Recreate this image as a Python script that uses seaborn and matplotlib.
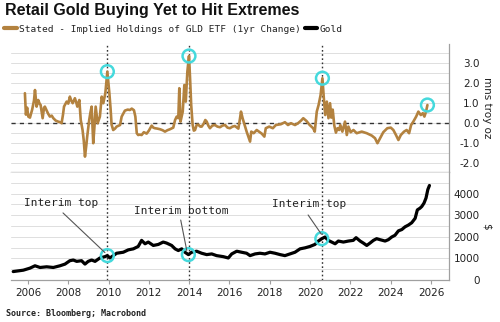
import numpy as np
import pandas as pd
import matplotlib
matplotlib.use("Agg")
import matplotlib.pyplot as plt
from matplotlib.lines import Line2D
from matplotlib.font_manager import FontProperties
import seaborn as sns

# Stated minus implied GLD holdings, 1yr change (mns troy oz)
holding_years = [
    2005.85, 2005.90, 2005.96, 2006.02, 2006.10, 2006.21, 2006.30, 2006.35, 2006.43, 2006.51,
    2006.58, 2006.63, 2006.73, 2006.80, 2006.84, 2006.93, 2007.00, 2007.09, 2007.18, 2007.26,
    2007.38, 2007.50, 2007.60, 2007.67, 2007.74, 2007.79, 2007.92, 2008.00, 2008.08, 2008.15,
    2008.22, 2008.33, 2008.40, 2008.45, 2008.55, 2008.62, 2008.71, 2008.77, 2008.83, 2008.90,
    2008.94, 2009.04, 2009.10, 2009.16, 2009.24, 2009.30, 2009.36, 2009.46, 2009.57, 2009.66,
    2009.74, 2009.84, 2009.94, 2010.04, 2010.10, 2010.15, 2010.23, 2010.32, 2010.40, 2010.50,
    2010.57, 2010.65, 2010.73, 2010.81, 2010.95, 2011.06, 2011.15, 2011.26, 2011.33, 2011.40,
    2011.47, 2011.55, 2011.64, 2011.75, 2011.89, 2012.00, 2012.14, 2012.22, 2012.30, 2012.42,
    2012.55, 2012.68, 2012.80, 2012.92, 2013.05, 2013.21, 2013.30, 2013.38, 2013.46, 2013.51,
    2013.57, 2013.68, 2013.76, 2013.83, 2013.91, 2013.99, 2014.04, 2014.10, 2014.17, 2014.23,
    2014.29, 2014.37, 2014.45, 2014.55, 2014.62, 2014.72, 2014.80, 2014.87, 2014.95, 2015.03,
    2015.15, 2015.28, 2015.40, 2015.53, 2015.65, 2015.78, 2015.90, 2016.02, 2016.15, 2016.27,
    2016.44, 2016.52, 2016.57, 2016.65, 2016.75, 2016.85, 2017.02, 2017.08, 2017.20, 2017.35,
    2017.50, 2017.60, 2017.73, 2017.80, 2017.97, 2018.15, 2018.30, 2018.55, 2018.75, 2018.90,
    2019.05, 2019.25, 2019.40, 2019.55, 2019.66, 2019.82, 2019.98, 2020.15, 2020.23, 2020.33,
    2020.42, 2020.52, 2020.61, 2020.68, 2020.75, 2020.83, 2020.91, 2020.99, 2021.05, 2021.12,
    2021.20, 2021.28, 2021.36, 2021.44, 2021.50, 2021.60, 2021.73, 2021.82, 2021.90, 2022.01,
    2022.15, 2022.31, 2022.56, 2022.81, 2023.06, 2023.22, 2023.34, 2023.47, 2023.63, 2023.83,
    2024.00, 2024.13, 2024.26, 2024.38, 2024.50, 2024.66, 2024.79, 2024.91, 2025.01, 2025.12,
    2025.26, 2025.37, 2025.49, 2025.59, 2025.67, 2025.75, 2025.82,
]
holding_change = [
    1.47, 0.40, 0.75, 0.30, 0.25, 0.65, 1.10, 1.63, 0.80, 1.13,
    0.95, 0.88, 0.22, 0.75, 0.80, 0.60, 0.45, 0.30, 0.35, 0.22,
    0.10, 0.05, 0.02, -0.03, 0.40, 0.80, 1.05, 0.95, 1.30, 1.10,
    0.97, 1.22, 1.00, 0.80, 1.13, 0.13, -0.37, -0.90, -1.70, -1.10,
    -0.70, 0.13, 0.50, 0.80, -1.03, -0.20, 0.80, -0.03, 0.30, 1.30,
    0.97, 1.47, 2.55, 1.47, 0.70, -0.10, -0.37, -0.30, -0.20, -0.15,
    -0.12, 0.30, 0.45, 0.60, 0.65, 0.63, 0.70, 0.62, 0.30, -0.53,
    -0.62, -0.60, -0.62, -0.48, -0.55, -0.40, -0.15, -0.25, -0.28, -0.30,
    -0.33, -0.38, -0.45, -0.38, -0.33, -0.25, 0.13, 0.30, 0.22, 1.72,
    0.05, 0.55, 1.88, 1.05, 2.55, 3.33, 2.30, 0.88, -0.10, -0.40,
    -0.37, -0.12, -0.10, -0.20, -0.20, -0.05, 0.13, 0.05, -0.15, -0.28,
    -0.15, -0.12, -0.20, -0.23, -0.15, -0.12, -0.25, -0.28, -0.20, -0.17,
    -0.30, 0.20, 0.55, 0.22, -0.12, -0.45, -0.95, -0.45, -0.53, -0.37,
    -0.48, -0.55, -0.70, -0.28, -0.20, -0.28, -0.12, -0.08, 0.02, -0.12,
    -0.03, -0.12, -0.03, 0.10, 0.22, 0.08, -0.12, -0.28, -0.45, 0.55,
    0.88, 1.38, 2.22, 1.22, 0.38, 1.05, 0.22, 0.97, 0.25, 0.65,
    -0.15, -0.50, -0.28, -0.37, -0.12, -0.45, 0.05, -0.62, -0.20, -0.48,
    -0.37, -0.53, -0.45, -0.53, -0.65, -0.78, -1.03, -0.78, -0.48, -0.28,
    -0.25, -0.37, -0.62, -0.87, -0.62, -0.45, -0.37, -0.53, -0.12, 0.05,
    0.30, 0.55, 0.38, 0.47, 0.30, 0.55, 0.88,
]

# Gold spot price ($)
gold_years = [
    2005.27, 2005.77, 2006.10, 2006.35, 2006.60, 2006.93, 2007.26, 2007.59, 2007.84, 2008.08,
    2008.25, 2008.42, 2008.66, 2008.83, 2008.99, 2009.16, 2009.33, 2009.57, 2009.82, 2009.94,
    2010.07, 2010.40, 2010.73, 2010.98, 2011.23, 2011.47, 2011.64, 2011.81, 2011.97, 2012.22,
    2012.47, 2012.71, 2012.88, 2013.13, 2013.30, 2013.46, 2013.63, 2013.79, 2013.96, 2014.12,
    2014.37, 2014.62, 2014.87, 2015.12, 2015.36, 2015.69, 2015.94, 2016.11, 2016.36, 2016.60,
    2016.85, 2017.02, 2017.27, 2017.51, 2017.76, 2018.01, 2018.26, 2018.51, 2018.75, 2019.00,
    2019.25, 2019.50, 2019.75, 2019.99, 2020.24, 2020.41, 2020.58, 2020.74, 2020.90, 2021.07,
    2021.24, 2021.40, 2021.65, 2021.90, 2022.14, 2022.28, 2022.48, 2022.64, 2022.81, 2022.97,
    2023.14, 2023.30, 2023.47, 2023.72, 2023.88, 2024.05, 2024.21, 2024.38, 2024.55, 2024.71,
    2024.87, 2025.04, 2025.21, 2025.32, 2025.45, 2025.54, 2025.65, 2025.75, 2025.84, 2025.92,
]
gold_price = [
    391, 455, 549, 659, 580, 612, 580, 659, 737, 894,
    925, 863, 894, 737, 863, 925, 863, 1020, 1082, 1129,
    1020, 1239, 1286, 1396, 1443, 1553, 1835, 1678, 1757, 1600,
    1647, 1757, 1710, 1600, 1443, 1365, 1443, 1286, 1176, 1286,
    1333, 1239, 1176, 1208, 1129, 1082, 1020, 1208, 1333, 1286,
    1239, 1129, 1208, 1239, 1208, 1286, 1239, 1176, 1129, 1208,
    1286, 1443, 1490, 1553, 1647, 1804, 1914, 1992, 1835, 1757,
    1678, 1804, 1757, 1804, 1835, 1961, 1804, 1710, 1600, 1710,
    1835, 1914, 1867, 1804, 1867, 1992, 2071, 2275, 2337, 2463,
    2541, 2651, 2855, 3247, 3325, 3404, 3561, 3796, 4188, 4376,
]

# Turning points highlighted on both panels
event_years = [2009.94, 2013.99, 2020.61]
holding_peak_years = [2009.94, 2013.99, 2020.61, 2025.82]
event_labels = ["Interim top", "Interim bottom", "Interim top"]

x_ticks = list(range(2006, 2027, 2))
holding_ticks = [-2.0, -1.0, 0.0, 1.0, 2.0, 3.0]
gold_ticks = [0, 1000, 2000, 3000, 4000]

TAN = "#B3823F"
CYAN = "#45D9DC"
GRID = "#dedede"
SPINE = "#a0a0a0"

sns.set_theme(style="white")
plt.rcParams["font.family"] = ["DejaVu Sans"]

holdings = pd.DataFrame({"year": holding_years, "change": holding_change})
gold = pd.DataFrame({"year": gold_years, "price": gold_price})

fig = plt.figure(figsize=(5, 3.22), dpi=100)
ax1 = fig.add_axes([0.022, 0.4658, 0.876, 0.3975])
ax2 = fig.add_axes([0.022, 0.1304, 0.876, 0.3354], sharex=ax1)

sns.lineplot(data=holdings, x="year", y="change", ax=ax1, color=TAN,
             linewidth=1.9, legend=False, zorder=3)
sns.lineplot(data=gold, x="year", y="price", ax=ax2, color="black",
             linewidth=2.3, legend=False, zorder=3)

ax1.set_xlim(2005.16, 2026.89)
ax1.set_ylim(-2.47, 3.93)
ax2.set_ylim(0, 5000)

for ax in (ax1, ax2):
    ax.set_xlabel("")
    ax.set_ylabel("")
    ax.yaxis.tick_right()
    for side in ("left", "top"):
        ax.spines[side].set_visible(False)
    for side in ("right", "bottom"):
        ax.spines[side].set_visible(True)
        ax.spines[side].set_color(SPINE)
        ax.spines[side].set_linewidth(0.9)
    ax.grid(True, which="both", axis="y", color=GRID, linewidth=0.7, zorder=0)
    ax.grid(False, axis="x")
    ax.set_axisbelow(True)
    for ev in event_years:
        ax.axvline(ev, color="#333333", linestyle=(0, (1.2, 1.8)), linewidth=1.0, zorder=2)

# holdings panel axes
ax1.set_yticks(holding_ticks)
ax1.set_yticklabels([f"{v:.1f}" for v in holding_ticks])
ax1.set_yticks(np.arange(-2.0, 3.51, 0.5), minor=True)
ax1.axhline(0, color="#333333", linestyle=(0, (3, 3)), linewidth=1.0, zorder=2)
ax1.tick_params(axis="x", which="both", bottom=False, labelbottom=False)

# gold panel axes
ax2.set_yticks(gold_ticks)
ax2.set_yticklabels([str(v) for v in gold_ticks])
ax2.set_yticks(np.arange(0, 5001, 500), minor=True)
ax2.set_xticks(x_ticks)
ax2.set_xticklabels([str(v) for v in x_ticks])
ax2.tick_params(axis="x", which="major", bottom=True, length=3, width=0.8,
                color=SPINE, labelsize=7.5, pad=3, labelcolor="#222222")

for ax in (ax1, ax2):
    ax.tick_params(axis="y", which="both", length=0, right=False, left=False,
                   labelright=True, labelleft=False, labelsize=7.5, pad=22,
                   labelcolor="#222222")
    for lab in ax.get_yticklabels():
        lab.set_horizontalalignment("right")

# highlight circles on turning points
h_yrs = np.array(holding_years)
h_val = np.array(holding_change)
hx = [h_yrs[np.argmin(abs(h_yrs - y))] for y in holding_peak_years]
hy = [h_val[np.argmin(abs(h_yrs - y))] for y in holding_peak_years]
ax1.scatter(hx, hy, s=85, facecolors="none", edgecolors=CYAN, linewidths=1.8, zorder=5)

g_yrs = np.array(gold_years)
g_val = np.array(gold_price)
gx = [g_yrs[np.argmin(abs(g_yrs - y))] for y in event_years]
gy = [g_val[np.argmin(abs(g_yrs - y))] for y in event_years]
ax2.scatter(gx, gy, s=85, facecolors="none", edgecolors=CYAN, linewidths=1.8, zorder=5)

# callouts
mono = "DejaVu Sans Mono"
label_pos = [(2007.64, 3576), (2013.59, 3214), (2019.95, 3529)]
leader_start = [(2007.74, 3106), (2013.58, 2776), (2019.90, 3012)]
leader_end = [(2009.82, 1270), (2013.88, 1365), (2020.56, 2118)]
for text, (tx, ty), start, end in zip(event_labels, label_pos, leader_start, leader_end):
    ax2.text(tx, ty, text, ha="center", va="center", family=mono, fontsize=8,
             color="#222222", zorder=6)
    ax2.annotate("", xy=end, xytext=start,
                 arrowprops=dict(arrowstyle="-", color="#555555", lw=0.8,
                                 shrinkA=0, shrinkB=0), zorder=6)

# unit labels
fig.text(0.974, 1 - 108 / 322, "mns troy oz", rotation=270, ha="center", va="center",
         fontsize=7.5, color="#222222")
fig.text(0.974, 1 - 226 / 322, "$", rotation=270, ha="center", va="center",
         fontsize=7.5, color="#222222")

# title, legend, source
fig.text(0.01, 1 - 11 / 322, "Retail Gold Buying Yet to Hit Extremes",
         family="Liberation Sans", fontweight="bold", fontsize=11.5, va="center",
         color="#111111")

handles = [Line2D([], [], color=TAN, lw=3), Line2D([], [], color="black", lw=3)]
labels = ["Stated - Implied Holdings of GLD ETF (1yr Change)", "Gold"]
fig.legend(handles, labels, loc="center left", bbox_to_anchor=(0.008, 1 - 29 / 322),
           ncol=2, frameon=False, prop=FontProperties(family=mono, size=6.8),
           handlelength=1.35, handletextpad=0.25, columnspacing=0.4,
           borderpad=0, borderaxespad=0, labelcolor="#222222")

fig.text(0.013, 1 - 313 / 322, "Source: Bloomberg; Macrobond", family=mono,
         fontweight="bold", fontsize=6, va="center", color="#222222")

fig.savefig("out.png", dpi=100)
